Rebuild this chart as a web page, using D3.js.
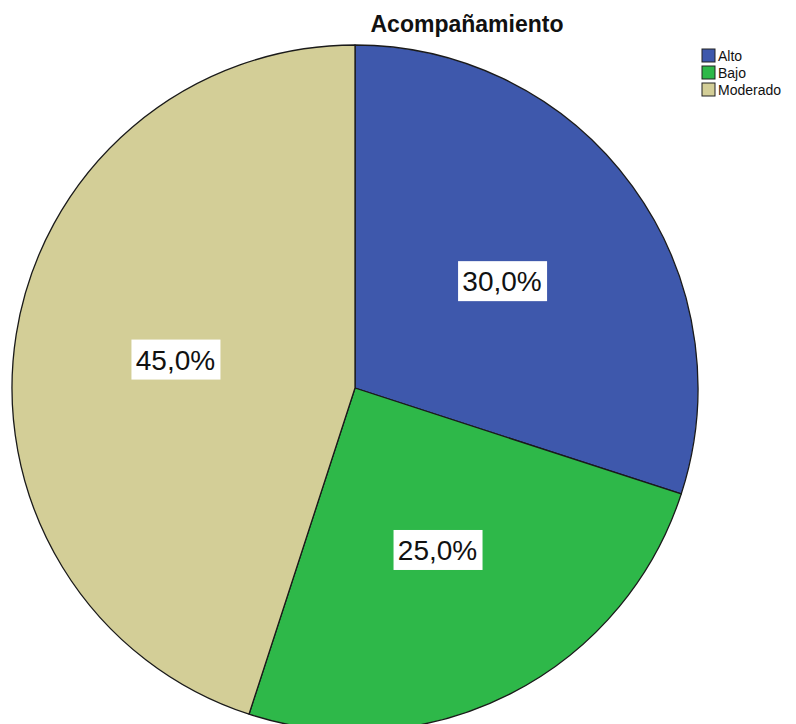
<!DOCTYPE html>
<html>
<head>
<meta charset="utf-8">
<script src="https://cdn.jsdelivr.net/npm/d3@7"></script>
<style>
html,body{margin:0;padding:0;background:#fff;}
svg{display:block;}
</style>
</head>
<body>
<svg id="chart" width="796" height="724"></svg>
<script>
const title = "Acompañamiento";
const categories = ["Alto", "Bajo", "Moderado"];
const values = [30.0, 25.0, 45.0];
const colors = ["#3e58ac", "#2eb849", "#d3ce97"];

const svg = d3.select("#chart");
const cx = 355, cy = 388, R = 343;

const color = d3.scaleOrdinal().domain(categories).range(colors);
const data = categories.map((c, i) => ({cat: c, value: values[i]}));

const pie = d3.pie().sort(null).value(d => d.value);
const arcs = pie(data);
const arc = d3.arc().innerRadius(0).outerRadius(R);
const labelArc = d3.arc().innerRadius(R * 0.53).outerRadius(R * 0.53);

const g = svg.append("g").attr("transform", `translate(${cx},${cy})`);

g.selectAll("path.slice")
  .data(arcs)
  .enter().append("path")
  .attr("class", "slice")
  .attr("d", arc)
  .attr("fill", d => color(d.data.cat))
  .attr("stroke", "#1a1a1a")
  .attr("stroke-width", 1.3)
  .attr("stroke-linejoin", "round");

const fmt = v => d3.format(".1f")(v).replace(".", ",") + "%";

const lbl = g.selectAll("g.lbl")
  .data(arcs)
  .enter().append("g")
  .attr("class", "lbl")
  .attr("transform", d => { const c = labelArc.centroid(d); return `translate(${c[0]},${c[1]})`; });

lbl.append("rect")
  .attr("x", -44).attr("y", -20)
  .attr("width", 89).attr("height", 40)
  .attr("fill", "#ffffff");

lbl.append("text")
  .attr("text-anchor", "middle")
  .attr("dy", "0.36em")
  .attr("font-family", "Liberation Sans, Arial, sans-serif")
  .attr("font-size", 28)
  .attr("fill", "#111")
  .text(d => fmt(d.data.value));

svg.append("text")
  .attr("x", 467).attr("y", 32)
  .attr("text-anchor", "middle")
  .attr("font-family", "Liberation Sans, Arial, sans-serif")
  .attr("font-weight", "bold")
  .attr("font-size", 23)
  .attr("fill", "#111")
  .text(title);

const legend = svg.append("g").attr("transform", "translate(702,49)");
const items = legend.selectAll("g.item")
  .data(categories)
  .enter().append("g")
  .attr("class", "item")
  .attr("transform", (d, i) => `translate(0,${i * 17})`);

items.append("rect")
  .attr("width", 13).attr("height", 13)
  .attr("fill", d => color(d))
  .attr("stroke", "#222")
  .attr("stroke-width", 1);

items.append("text")
  .attr("x", 16).attr("y", 7)
  .attr("dy", "0.36em")
  .attr("font-family", "Liberation Sans, Arial, sans-serif")
  .attr("font-size", 14)
  .attr("fill", "#111")
  .text(d => d);
</script>
</body>
</html>
